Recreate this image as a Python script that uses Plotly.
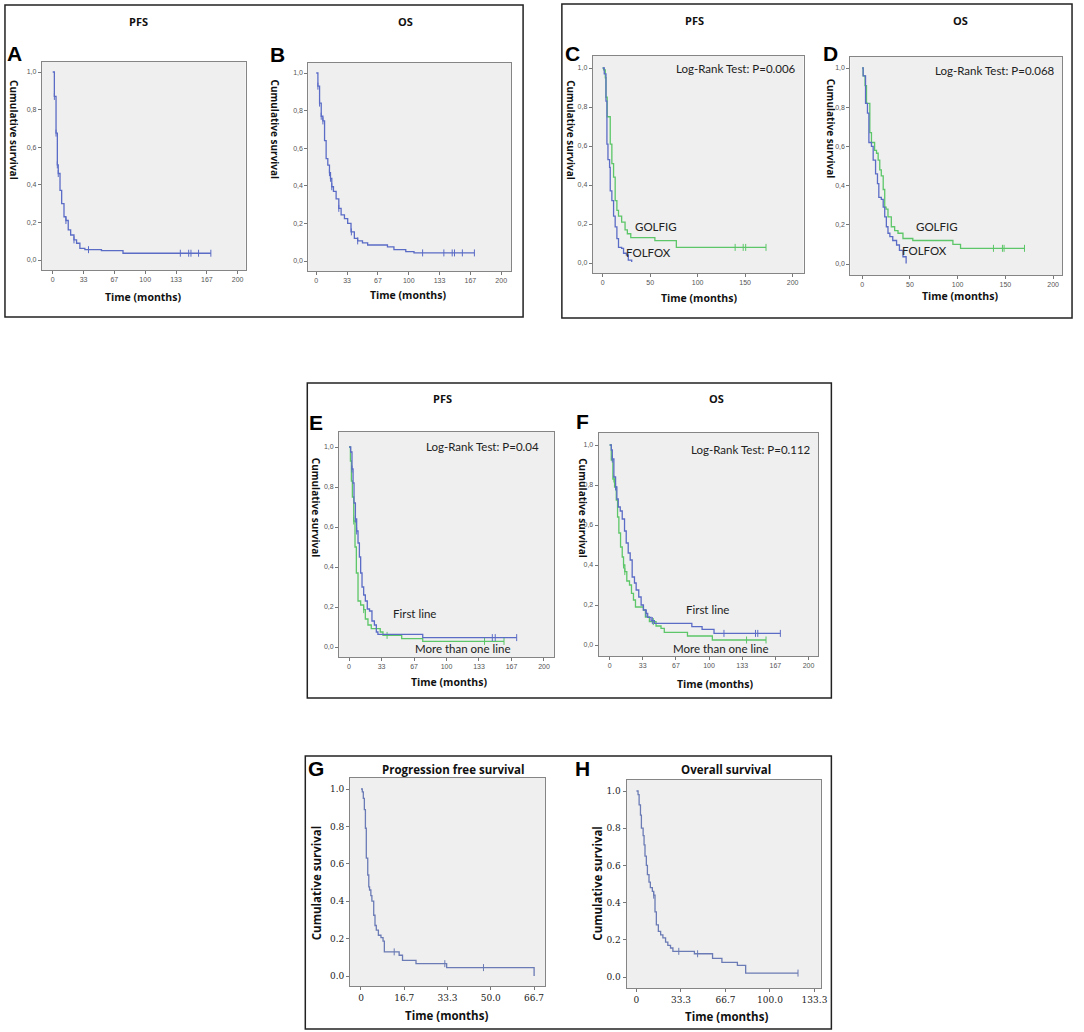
import plotly.graph_objects as go

W, H = 1084, 1032

# ---- data (time in months, cumulative survival) ----
a_t = [0, 1.8, 3.6, 5, 6, 7.9, 9.7, 12.2, 14.3, 16.8, 19.4, 23, 25.8, 29.4, 34.8, 52.7, 76, 171]
a_s = [1, 0.87, 0.675, 0.506, 0.46, 0.37, 0.30, 0.23, 0.21, 0.16, 0.133, 0.107, 0.089, 0.062, 0.055, 0.05, 0.036, 0.036]
a_cens = [1.8, 3.6, 5, 6, 14.3, 23, 38.7, 138, 147, 149.5, 157.7, 171]

b_t = [0, 1.8, 3.6, 5.4, 7.2, 9, 10.7, 12.5, 14.3, 15.4, 16.8, 18.6, 21.5, 24.4, 26.9, 30.5, 34, 37.6,
       41.2, 44.8, 50, 55.6, 77, 84, 96.8, 105.7, 171]
b_s = [1, 0.93, 0.84, 0.77, 0.745, 0.64, 0.545, 0.51, 0.47, 0.44, 0.395, 0.37, 0.33, 0.28, 0.245, 0.225, 0.2,
       0.155, 0.12, 0.107, 0.096, 0.085, 0.075, 0.06, 0.05, 0.043, 0.043]
b_cens = [1.8, 3.6, 5.4, 7.2, 14.3, 15.4, 16.8, 24.4, 38, 44.8, 115, 138, 147, 149.5, 158, 171]

c_golfig_t = [0, 1, 2.8, 3.5, 4.8, 8, 9.7, 11.5, 13.2, 15, 16.7, 20, 23.6, 26, 29.6, 55, 77.6, 172]
c_golfig_s = [1, 0.99, 0.95, 0.85, 0.75, 0.61, 0.51, 0.44, 0.32, 0.27, 0.24, 0.21, 0.17, 0.15, 0.13, 0.115, 0.08, 0.08]
c_golfig_cens = [139.5, 148, 150.6, 172]
c_folfox_t = [0, 1.7, 3.5, 4.5, 5.6, 7.3, 8, 9.7, 11.5, 13.2, 15, 16.7, 20, 22, 25, 27, 30.6]
c_folfox_s = [1, 0.97, 0.83, 0.61, 0.53, 0.49, 0.37, 0.32, 0.24, 0.185, 0.125, 0.08, 0.075, 0.05, 0.04, 0.015, 0.005]

d_golfig_t = [0, 1, 3, 4.5, 8, 9.7, 13, 15, 16.7, 18.4, 20, 22, 23.6, 25, 27, 30.5, 34, 37.5, 42.7, 53, 95, 103, 170]
d_golfig_s = [1, 0.96, 0.91, 0.82, 0.67, 0.62, 0.58, 0.565, 0.53, 0.48, 0.45, 0.38, 0.29, 0.28, 0.24, 0.19, 0.17,
              0.157, 0.13, 0.12, 0.10, 0.08, 0.08]
d_golfig_cens = [137.5, 146.9, 148.6, 170]
d_folfox_t = [0, 1, 3.5, 5.5, 7, 9.7, 11.5, 14, 16, 17.4, 20, 22, 23.6, 25.3, 27, 29, 32, 36, 39, 42.7, 46]
d_folfox_s = [1, 0.96, 0.82, 0.77, 0.62, 0.60, 0.53, 0.46, 0.41, 0.34, 0.33, 0.29, 0.24, 0.19, 0.157, 0.14, 0.12,
              0.097, 0.07, 0.037, 0.003]

e_first_t = [0, 1.7, 3, 4.1, 5.1, 6.5, 7.8, 9.2, 10.6, 11.9, 13.3, 15, 16.7, 18.7, 21, 23.5, 26, 28, 29.6, 75.6, 172]
e_first_s = [1, 0.975, 0.89, 0.82, 0.72, 0.64, 0.58, 0.52, 0.45, 0.37, 0.30, 0.26, 0.23, 0.19, 0.18, 0.13, 0.11,
             0.075, 0.063, 0.047, 0.047]
e_first_cens = [3, 6.5, 7.8, 147, 150, 172]
e_more_t = [0, 1.4, 2.4, 3.4, 4.8, 6.1, 7.5, 9.2, 11.9, 15, 16.7, 19.4, 22.8, 32, 34.8, 54, 75.6, 159]
e_more_s = [1, 0.93, 0.83, 0.75, 0.63, 0.5, 0.37, 0.23, 0.21, 0.187, 0.14, 0.11, 0.092, 0.075, 0.058, 0.042, 0.028, 0.028]
e_more_cens = [4.8, 15, 39, 139, 159]

f_first_t = [0, 1.7, 2.7, 4.3, 6, 7.3, 8.7, 10.7, 12.7, 15, 16.7, 18.7, 20.7, 22.7, 25, 26.7, 29.3, 31.7, 34, 36.7,
             38.3, 41.7, 45, 82.7, 93, 105, 171.7]
f_first_s = [1, 0.975, 0.93, 0.84, 0.79, 0.73, 0.69, 0.67, 0.63, 0.57, 0.51, 0.46, 0.425, 0.34, 0.31, 0.275, 0.24,
             0.2, 0.175, 0.158, 0.138, 0.122, 0.108, 0.092, 0.078, 0.058, 0.058]
f_first_cens = [2.7, 6, 36.7, 43, 115, 146.7, 149, 171.7]
f_more_t = [0, 1.7, 3.3, 5, 6.7, 8, 9.3, 11, 12.7, 14, 15.3, 17.3, 20, 22, 24, 26, 34, 36, 40, 46.7, 51.7, 55,
            78.3, 103.3, 157.3]
f_more_s = [1, 0.925, 0.83, 0.79, 0.725, 0.64, 0.56, 0.49, 0.44, 0.40, 0.367, 0.32, 0.30, 0.258, 0.225, 0.19, 0.175,
            0.14, 0.117, 0.095, 0.083, 0.063, 0.045, 0.025, 0.025]
f_more_cens = [4.3, 14, 15.3, 44, 137.7, 157.3]

g_t = [0, 0.5, 0.9, 1.3, 1.7, 2.05, 2.6, 3, 3.3, 3.8, 4.2, 4.9, 5.4, 5.9, 6.7, 7.7, 8.5, 9, 14.7, 16, 21.2, 33, 66.7]
g_s = [1, 0.985, 0.95, 0.89, 0.79, 0.63, 0.54, 0.477, 0.46, 0.43, 0.40, 0.325, 0.27, 0.245, 0.218, 0.205, 0.186,
       0.129, 0.111, 0.084, 0.066, 0.045, 0.0]
g_cens = [12.8, 32.3, 47.2]

h_t = [0, 1.2, 2, 3, 3.7, 5, 5.7, 6.4, 7.4, 8.2, 9.4, 10.4, 11.9, 12.9, 13.9, 14.9, 16.4, 18.1, 19.8, 21.8, 23.5,
       25.5, 27.3, 43.4, 57, 64, 75.6, 81.8, 121]
h_s = [1, 0.98, 0.925, 0.87, 0.80, 0.76, 0.71, 0.65, 0.60, 0.55, 0.51, 0.48, 0.46, 0.44, 0.35, 0.28, 0.245, 0.227,
       0.21, 0.188, 0.17, 0.156, 0.138, 0.125, 0.10, 0.079, 0.063, 0.021, 0.021]
h_cens = [12.9, 31.7, 45.8, 121]

ticks_200_3 = [0, 33.33, 66.67, 100, 133.33, 166.67, 200]
ticks_200_3_text = ["0", "33", "67", "100", "133", "167", "200"]
ticks_200_4 = [0, 50, 100, 150, 200]
ticks_200_4_text = ["0", "50", "100", "150", "200"]
ticks_g = [0, 16.67, 33.33, 50, 66.67]
ticks_g_text = ["0", "16.7", "33.3", "50.0", "66.7"]
ticks_h = [0, 33.33, 66.67, 100, 133.33]
ticks_h_text = ["0", "33.3", "66.7", "100.0", "133.3"]
y_ticks = [0, 0.2, 0.4, 0.6, 0.8, 1.0]
y_comma = ["0,0", "0,2", "0,4", "0,6", "0,8", "1,0"]
y_dot = ["0.0", "0.2", "0.4", "0.6", "0.8", "1.0"]

BLUE = "#5b6cc6"
GREEN = "#5cc668"
SLATE = "#6b7bb5"


def px(x):
    return x / W


def py(y):
    return 1 - y / H


def surv_at(ts, ss, t):
    v = ss[0]
    for ti, si in zip(ts, ss):
        if ti <= t:
            v = si
    return v


fig = go.Figure()
layout = {}


def panel(n, rect, xpix, xval, ypix, yval, xt, xtt, ytt, small):
    l, t, r, b = rect
    kx = (xpix[1] - xpix[0]) / (xval[1] - xval[0])
    ky = (ypix[0] - ypix[1]) / (yval[1] - yval[0])
    xr = [xval[0] + (l - xpix[0]) / kx, xval[0] + (r - xpix[0]) / kx]
    yr = [yval[0] - (b - ypix[0]) / ky, yval[0] + (ypix[0] - t) / ky]
    tf = dict(size=7, color="#555", family="Liberation Sans") if small else \
        dict(size=9, color="#222", family="DejaVu Serif")
    sfx = "" if n == 1 else str(n)
    common = dict(showline=True, mirror=True, linecolor="#858585", linewidth=1, showgrid=False,
                  zeroline=False, ticks="outside", ticklen=3, tickcolor="#777", tickfont=tf,
                  layer="above traces")
    layout["xaxis" + sfx] = dict(domain=[px(l), px(r)], range=xr, tickvals=xt, ticktext=xtt,
                                 anchor="y" + sfx, **common)
    layout["yaxis" + sfx] = dict(domain=[py(b), py(t)], range=yr, tickvals=y_ticks, ticktext=ytt,
                                 anchor="x" + sfx, **common)
    return "x" + sfx, "y" + sfx


def curve(ax, ts, ss, color, cens=None, width=1.3):
    xa, ya = ax
    fig.add_trace(go.Scatter(x=ts, y=ss, mode="lines", line=dict(color=color, width=width, shape="hv"),
                             xaxis=xa, yaxis=ya, hoverinfo="skip"))
    if cens:
        fig.add_trace(go.Scatter(x=cens, y=[surv_at(ts, ss, c) for c in cens], mode="markers",
                                 marker=dict(symbol="line-ns-open", size=5, color=color,
                                             line=dict(color=color, width=1)),
                                 xaxis=xa, yaxis=ya, hoverinfo="skip"))


axA = panel(1, (42, 62, 247, 270), (53, 239), (0, 200), (260, 72), (0, 1), ticks_200_3, ticks_200_3_text, y_comma, True)
axB = panel(2, (310, 63, 514, 271), (318, 504), (0, 200), (261, 73), (0, 1), ticks_200_3, ticks_200_3_text, y_comma, True)
axC = panel(3, (596, 56, 808, 273), (606, 797), (0, 200), (263, 68), (0, 1), ticks_200_4, ticks_200_4_text, y_comma, True)
axD = panel(4, (855, 57, 1068, 275), (867, 1059), (0, 200), (264, 68), (0, 1), ticks_200_4, ticks_200_4_text, y_comma, True)
axE = panel(5, (341, 432, 557, 657), (351, 547), (0, 200), (647, 447), (0, 1), ticks_200_3, ticks_200_3_text, y_comma, True)
axF = panel(6, (602, 433, 823, 656), (613, 813), (0, 200), (645, 445), (0, 1), ticks_200_3, ticks_200_3_text, y_comma, True)
axG = panel(7, (352, 778, 548, 986), (363, 537), (0, 66.67), (976, 789), (0, 1), ticks_g, ticks_g_text, y_dot, False)
axH = panel(8, (630, 780, 826, 988), (640, 819), (0, 133.33), (977, 791), (0, 1), ticks_h, ticks_h_text, y_dot, False)

curve(axA, a_t, a_s, BLUE, a_cens)
curve(axB, b_t, b_s, BLUE, b_cens)
curve(axC, c_golfig_t, c_golfig_s, GREEN, c_golfig_cens)
curve(axC, c_folfox_t, c_folfox_s, BLUE)
curve(axD, d_golfig_t, d_golfig_s, GREEN, d_golfig_cens)
curve(axD, d_folfox_t, d_folfox_s, BLUE)
curve(axE, e_more_t, e_more_s, GREEN, e_more_cens)
curve(axE, e_first_t, e_first_s, BLUE, e_first_cens)
curve(axF, f_more_t, f_more_s, GREEN, f_more_cens)
curve(axF, f_first_t, f_first_s, BLUE, f_first_cens)
curve(axG, g_t, g_s, SLATE, g_cens)
curve(axH, h_t, h_s, SLATE, h_cens)

ann = []


def text(x, y, s, size=12, bold=False, angle=0, family="Open Sans", color="#111"):
    ann.append(dict(x=px(x), y=py(y), xref="paper", yref="paper", text=("<b>%s</b>" % s) if bold else s,
                    showarrow=False, xanchor="center", yanchor="middle", textangle=angle,
                    font=dict(size=size, family=family, color=color)))


# group titles and panel letters
for x, y, s in [(139, 21, "PFS"), (408, 21, "OS"), (698, 20, "PFS"), (966, 20, "OS"),
                (445, 398, "PFS"), (720, 398, "OS")]:
    text(x, y, s, size=11, bold=True)
text(456, 769, "Progression free survival", size=11.5, bold=True)
text(730, 769, "Overall survival", size=11.5, bold=True)
for x, y, s in [(15, 54, "A"), (279, 55, "B"), (576, 54, "C"), (835, 54, "D"),
                (318, 422, "E"), (586, 421, "F"), (318, 768, "G"), (586, 768, "H")]:
    text(x, y, s, size=21, bold=True, family="Liberation Sans", color="#000")

# axis titles
for x, y in [(144, 297), (410, 295), (703, 298), (965, 296), (451, 682), (719, 684)]:
    text(x, y, "Time (months)", size=10.5, bold=True)
for x, y in [(449, 1015), (731, 1016)]:
    text(x, y, "Time (months)", size=11.5, bold=True)
for x, y in [(14, 130), (277, 130), (574, 130), (836, 129), (318, 508), (586, 508)]:
    text(x, y, "Cumulative survival", size=10, bold=True, angle=90)
for x, y in [(318, 883), (600, 883)]:
    text(x, y, "Cumulative survival", size=11.5, bold=True, angle=-90)

# in-plot labels
for x, y, s in [(740, 68, "Log-Rank Test: P=0.006"), (1001, 70, "Log-Rank Test: P=0.068"),
                (485, 446, "Log-Rank Test: P=0.04"), (755, 449, "Log-Rank Test: P=0.112"),
                (660, 227, "GOLFIG"), (652, 252, "FOLFOX"), (942, 227, "GOLFIG"), (930, 250, "FOLFOX"),
                (417, 613, "First line"), (466, 648, "More than one line"),
                (711, 609, "First line"), (725, 648, "More than one line")]:
    text(x, y, s, size=11.5, family="Lato", color="#222")

shapes = []
for l, t, r, b in [(5, 5, 526, 317), (565, 4, 1078, 318), (309, 383, 836, 698), (307, 756, 836, 1029)]:
    shapes.append(dict(type="rect", xref="paper", yref="paper", x0=px(l), x1=px(r), y0=py(b), y1=py(t),
                       line=dict(color="#222", width=1.5)))

fig.update_layout(width=W, height=H, margin=dict(l=0, r=0, t=0, b=0), paper_bgcolor="white",
                  plot_bgcolor="#efefef", showlegend=False, annotations=ann, shapes=shapes, **layout)

fig.write_html("out.html", config={"displayModeBar": False},
               post_script="document.body.style.margin='0';")
